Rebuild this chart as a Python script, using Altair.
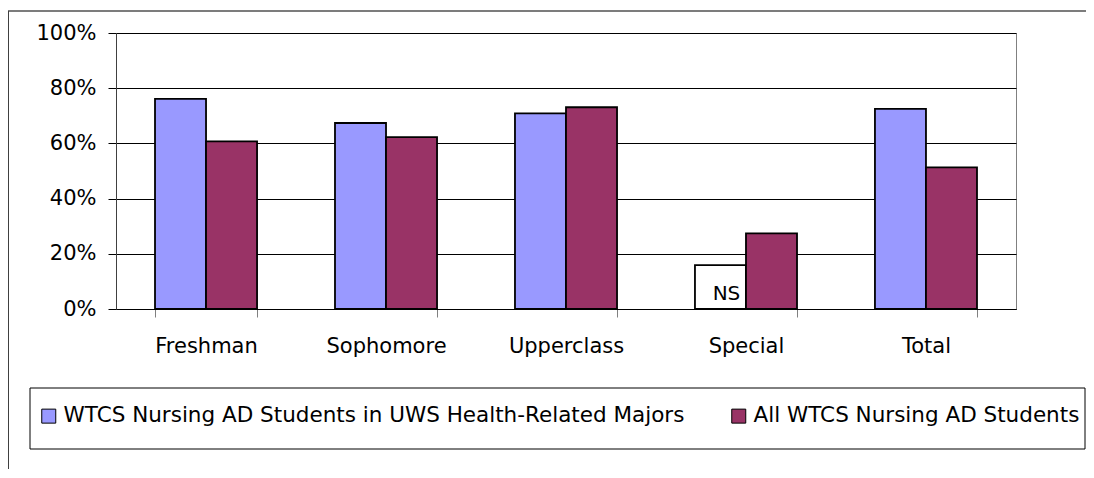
import altair as alt
import pandas as pd

categories = ["Freshman", "Sophomore", "Upperclass", "Special", "Total"]
series_names = [
    "WTCS Nursing AD Students in UWS Health-Related Majors",
    "All WTCS Nursing AD Students",
]
uws_health = [0.761, 0.674, 0.709, 0.159, 0.725]
all_nursing = [0.607, 0.623, 0.731, 0.274, 0.513]
notes = ["", "", "", "NS", ""]  # note on the first series' bar
y_ticks = [0, 0.2, 0.4, 0.6, 0.8, 1.0]

rows = []
for i, c in enumerate(categories):
    rows.append(dict(category=c, series=series_names[0], value=uws_health[i], note=notes[i]))
    rows.append(dict(category=c, series=series_names[1], value=all_nursing[i], note=""))
df = pd.DataFrame(rows)

FONT = "DejaVu Sans"
OX, OY = 116, 33  # absolute page position of plot origin

x = alt.X(
    "category:N",
    sort=categories,
    scale=alt.Scale(paddingInner=0.433, paddingOuter=0.2167),
    axis=alt.Axis(
        title=None, labelAngle=0, labelFont=FONT, labelFontSize=21, labelColor="black",
        tickBand="extent", tickColor="#808080", tickSize=8, domainColor="black",
        labelPadding=18, grid=False,
    ),
)
xoff = alt.XOffset("series:N", sort=series_names, scale=alt.Scale(paddingInner=0, paddingOuter=0))
y = alt.Y(
    "value:Q",
    scale=alt.Scale(domain=[0, 1], nice=False),
    axis=alt.Axis(
        title=None, values=y_ticks, format=".0%", gridColor="black", gridWidth=1,
        tickColor="black", tickSize=8, labelPadding=12, labelFont=FONT, labelFontSize=21,
        labelColor="black", domainColor="#404040",
    ),
)

fill = alt.condition(
    "datum.category === 'Special' && datum.series === '" + series_names[0] + "'",
    alt.value("white"),
    alt.Fill(
        "series:N",
        sort=series_names,
        scale=alt.Scale(domain=series_names, range=["#9999FF", "#993366"]),
        legend=alt.Legend(
            title=None, orient="none", legendX=-78, legendY=372, direction="horizontal",
            symbolType="square", symbolSize=196, symbolStrokeColor="black",
            symbolStrokeWidth=1, labelFont=FONT, labelFontSize=21.5, labelColor="black",
            labelLimit=2000, labelOffset=4, columnPadding=43, padding=0,
        ),
    ),
)

bars = alt.Chart(df).mark_bar(stroke="black", strokeWidth=1.8).encode(
    x=x, xOffset=xoff, y=y, fill=fill
)

ns_text = alt.Chart(df).transform_filter("datum.note != ''").mark_text(
    font=FONT, fontSize=20, color="black", baseline="alphabetic", dx=6, dy=-9
).encode(x=x, xOffset=xoff, y=alt.datum(0), text="note:N")

deco = alt.Data(values=[{}])
top_border = alt.Chart(deco).mark_rule(color="#505050", strokeWidth=1.5).encode(
    x=alt.value(8 - OX), x2=alt.value(1094 - OX), y=alt.value(11 - OY)
)
left_border = alt.Chart(deco).mark_rule(color="#404040", strokeWidth=2).encode(
    x=alt.value(8 - OX), y=alt.value(11 - OY), y2=alt.value(478 - OY)
)
legend_box = alt.Chart(deco).mark_rect(fill="transparent", stroke="black", strokeWidth=1).encode(
    x=alt.value(30 - OX), x2=alt.value(1085 - OX), y=alt.value(388 - OY), y2=alt.value(449 - OY)
)

chart = (
    alt.layer(bars, ns_text, top_border, left_border, legend_box)
    .properties(
        width=900,
        height=276,
        padding={"left": 108, "top": 25, "right": 70, "bottom": 160},
        autosize=alt.AutoSizeParams(type="none"),
        background="white",
    )
    .configure_view(stroke="#808080", strokeWidth=1)
)

chart.save("out.html", embed_options={"renderer": "svg", "actions": False})
